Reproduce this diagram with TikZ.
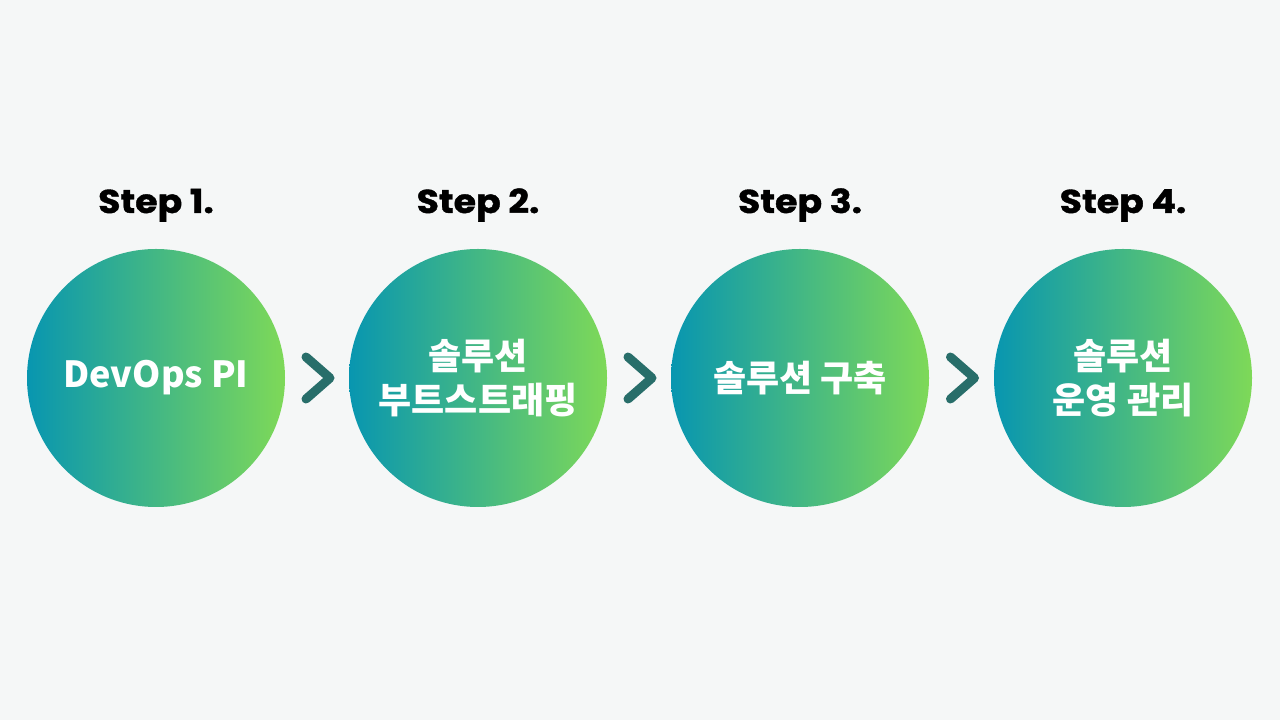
\documentclass[tikz,border=0pt]{standalone}
\usepackage{fontspec}
\usepackage{xcolor}
\newfontfamily\stepfont{Poppins}[BoldFont={* Bold},
      BoldFeatures={FakeStretch=1.1, FakeBold=1.2}]
\newfontfamily\krfont{Noto Sans CJK KR}
\definecolor{pagegray}{RGB}{245, 247, 247}
\definecolor{stepteal}{RGB}{8, 150, 176}
\definecolor{stepgreen}{RGB}{126, 217, 88}
\definecolor{chevdark}{RGB}{40, 110, 106}
\usetikzlibrary{positioning, calc}

\begin{document}
\begin{tikzpicture}[x=1pt, y=1pt,
        stepdisc/.style={circle, minimum size=258pt, inner sep=0pt,
              left color=stepteal, right color=stepgreen, draw=none,
              text=white, align=center,
              font=\krfont\bfseries\fontsize{36}{44}\selectfont},
        steplabel/.style={anchor=base, text=black,
              font=\stepfont\bfseries\fontsize{33}{38}\selectfont},
        chevron/.style={draw=chevdark, line width=9pt, line cap=round,
              line join=round}]
        % page
        \fill[pagegray] (0,0) rectangle (1280,720);
        % discs
        \node[stepdisc] (devops) at (156,342) {DevOps PI};
        \node[stepdisc] (boot) at (478,342) {솔루션\\부트스트래핑};
        \node[stepdisc] (build) at (800,342) {솔루션 구축};
        \node[stepdisc] (operate) at (1123,342) {솔루션\\운영 관리};
        % labels
        \node[steplabel] (s1) at (156,507) {Step 1.};
        \node[steplabel] (s2) at (478,507) {Step 2.};
        \node[steplabel] (s3) at (800,507) {Step 3.};
        \node[steplabel] (s4) at (1123,507) {Step 4.};
        % chevrons between discs
        \foreach \a/\b in {devops/boot, boot/build, build/operate}
              \draw[chevron] ($(\a.east)!0.5!(\b.west)+(-11,21)$)
                    -- ++(24,-21) -- ++(-24,-21);
      \end{tikzpicture}
\end{document}
